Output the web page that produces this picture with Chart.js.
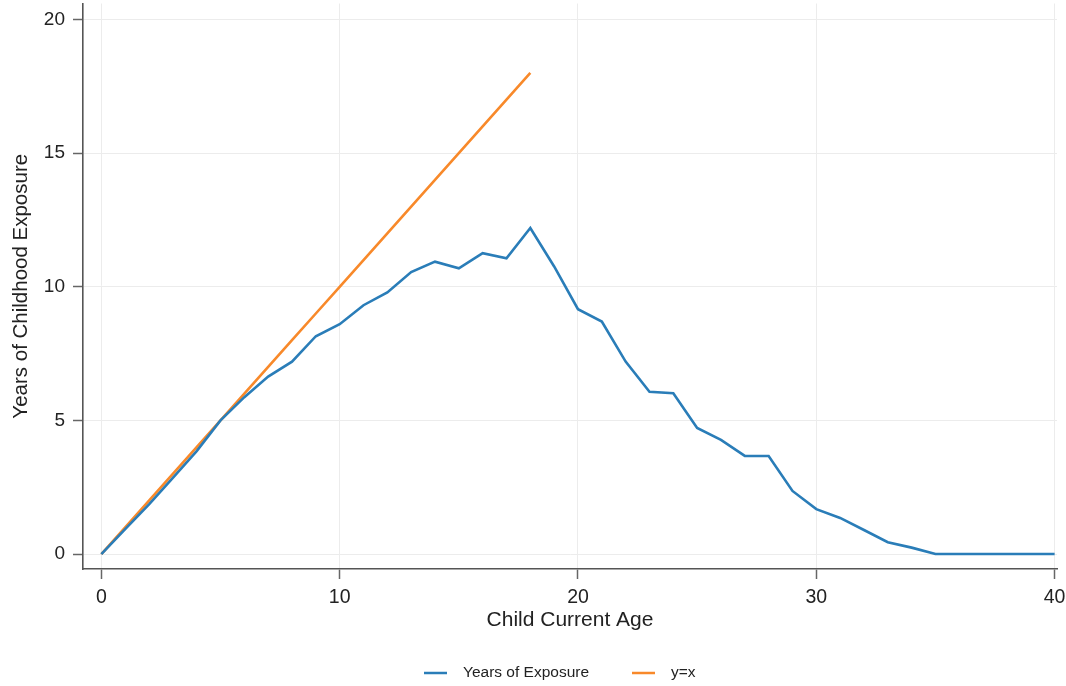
<!DOCTYPE html>
<html>
<head>
<meta charset="utf-8">
<script src="https://cdn.jsdelivr.net/npm/chart.js@4"></script>
<style>
  html, body { margin: 0; padding: 0; background: #ffffff; }
  #wrap { width: 1066px; height: 686px; position: relative; }
</style>
</head>
<body>
<div id="wrap"><canvas id="chart" width="1066" height="686"></canvas></div>
<script>
// Child age (years) and average years of childhood exposure
const ages = [0,1,2,3,4,5,6,7,8,9,10,11,12,13,14,15,16,17,18,19,20,21,22,23,24,25,26,27,28,29,30,31,32,33,34,35,36,37,38,39,40];
const exposure = [0,0.93,1.86,2.85,3.85,5.0,5.87,6.64,7.2,8.15,8.6,9.31,9.79,10.55,10.94,10.69,11.26,11.07,12.2,10.76,9.16,8.7,7.2,6.07,6.02,4.72,4.27,3.67,3.67,2.36,1.68,1.35,0.9,0.44,0.24,0,0,0,0,0,0];
// Reference line y = x over childhood years
const diagAges = [0,1,2,3,4,5,6,7,8,9,10,11,12,13,14,15,16,17,18];
const diagValues = [0,1,2,3,4,5,6,7,8,9,10,11,12,13,14,15,16,17,18];
// Axis tick positions
const xTicks = [0,10,20,30,40];
const yTicks = [0,5,10,15,20];

const seriesNames = ['Years of Exposure', 'y=x'];
const BLUE = '#2a7db8';
const ORANGE = '#f8892a';
const FONT = "'Liberation Sans', Arial, sans-serif";

const toPoints = (xs, ys) => xs.map((x, i) => ({ x: x, y: ys[i] }));

// Legend drawn centred under the plot with short line samples
const bottomLegend = {
  id: 'bottomLegend',
  afterDraw(chart) {
    const ctx = chart.ctx;
    const y = 673;
    const items = [
      { x: 424, ds: chart.data.datasets[0] },
      { x: 632, ds: chart.data.datasets[1] }
    ];
    ctx.save();
    ctx.font = '15.5px ' + FONT;
    ctx.textBaseline = 'middle';
    ctx.textAlign = 'left';
    items.forEach(it => {
      ctx.strokeStyle = it.ds.borderColor;
      ctx.lineWidth = 2.5;
      ctx.beginPath();
      ctx.moveTo(it.x, y);
      ctx.lineTo(it.x + 23, y);
      ctx.stroke();
      ctx.fillStyle = '#222';
      ctx.fillText(it.ds.label, it.x + 39, y);
    });
    ctx.restore();
  }
};

new Chart(document.getElementById('chart'), {
  type: 'line',
  data: {
    datasets: [
      {
        label: seriesNames[0],
        data: toPoints(ages, exposure),
        borderColor: BLUE,
        backgroundColor: BLUE,
        borderWidth: 2.6,
        pointRadius: 0,
        tension: 0,
        fill: false
      },
      {
        label: seriesNames[1],
        data: toPoints(diagAges, diagValues),
        borderColor: ORANGE,
        backgroundColor: ORANGE,
        borderWidth: 2.6,
        pointRadius: 0,
        tension: 0,
        fill: false
      }
    ]
  },
  options: {
    responsive: false,
    animation: false,
    events: [],
    layout: { padding: { left: 0, right: 9, top: 3.5, bottom: 47 } },
    plugins: {
      legend: { display: false },
      tooltip: { enabled: false }
    },
    scales: {
      x: {
        type: 'linear',
        min: -0.77,
        max: 40.1,
        afterBuildTicks: s => { s.ticks = xTicks.map(v => ({ value: v })); },
        afterFit: s => { s.height = 70; s.paddingLeft = 0; s.paddingRight = 0; },
        ticks: {
          color: '#222',
          font: { family: FONT, size: 19.5 },
          padding: 7,
          maxRotation: 0
        },
        grid: {
          color: '#ececec',
          lineWidth: 1,
          tickLength: 10,
          tickColor: '#666',
          tickWidth: 1.5
        },
        border: { color: '#555', width: 1.6 },
        title: {
          display: true,
          text: 'Child Current Age',
          color: '#222',
          font: { family: FONT, size: 21 },
          padding: { top: 0, bottom: 6 }
        }
      },
      y: {
        type: 'linear',
        min: -0.56,
        max: 20.6,
        afterBuildTicks: s => { s.ticks = yTicks.map(v => ({ value: v })); },
        afterFit: s => { s.width = 83; s.paddingTop = 0; s.paddingBottom = 0; },
        ticks: {
          color: '#222',
          font: { family: FONT, size: 19 },
          padding: 8
        },
        grid: {
          color: '#ececec',
          lineWidth: 1,
          tickLength: 10,
          tickColor: '#666',
          tickWidth: 1.5
        },
        border: { color: '#555', width: 1.6 },
        title: {
          display: true,
          text: 'Years of Childhood Exposure',
          color: '#222',
          font: { family: FONT, size: 20.5 },
          padding: { top: 9, bottom: 0 }
        }
      }
    }
  },
  plugins: [bottomLegend]
});
</script>
</body>
</html>
